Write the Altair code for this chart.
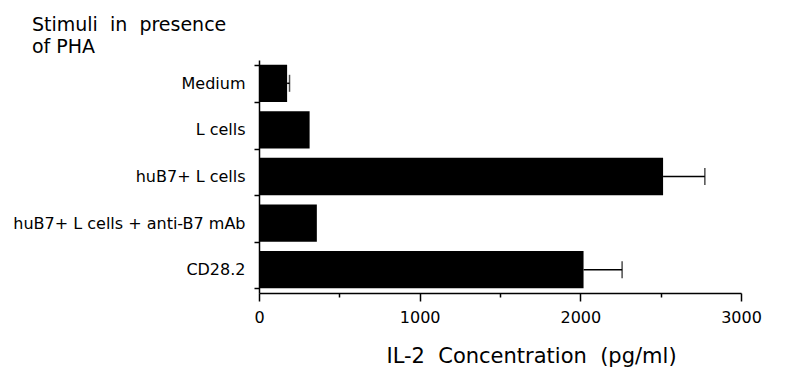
import altair as alt
import pandas as pd

categories = ["Medium", "L cells", "huB7+ L cells", "huB7+ L cells + anti-B7 mAb", "CD28.2"]
values = [175, 315, 2515, 360, 2020]
errors = [15, 0, 260, 0, 240]

df = pd.DataFrame({"cat": categories, "val": values, "err": errors})
df["hi"] = df["val"] + df["err"]

FONT = "DejaVu Sans"
SP = "\u00a0\u00a0"

y_enc = alt.Y("cat:N", sort=categories,
              scale=alt.Scale(paddingInner=0.2, paddingOuter=0.1),
              axis=alt.Axis(title=None, tickBand="extent", tickSize=5, labelPadding=9,
                            labelFont=FONT, labelFontSize=16, labelColor="black",
                            domainColor="black", tickColor="black", domainWidth=1.5,
                            tickWidth=1.5, labelLimit=400))

x_scale = alt.Scale(domain=[0, 3000], nice=False)

bars = alt.Chart(df).mark_bar(color="black").encode(
    x=alt.X("val:Q", scale=x_scale,
            axis=alt.Axis(title=f"IL-2{SP}Concentration{SP}(pg/ml)",
                          values=[0, 500, 1000, 1500, 2000, 2500, 3000],
                          format="d",
                          labelExpr="datum.value % 1000 === 0 ? datum.label : ''",
                          tickSize={"condition": {"test": "datum.value % 1000 === 0", "value": 8}, "value": 4},
                          labelPadding=8, labelFont=FONT, labelFontSize=16, labelColor="black",
                          titleFont=FONT, titleFontSize=21, titleFontWeight="normal",
                          titleColor="black", titlePadding=20, titleX=272,
                          domainColor="black", tickColor="black", domainWidth=1.5,
                          tickWidth=1.5, grid=False, labelFlush=False)),
    y=y_enc,
)

err_df_filter = alt.datum.err > 0

rules = alt.Chart(df).transform_filter(err_df_filter).mark_rule(color="black", strokeWidth=1.5).encode(
    x=alt.X("val:Q", scale=x_scale),
    x2="hi:Q",
    y=alt.Y("cat:N", sort=categories),
)

caps = alt.Chart(df).transform_filter(err_df_filter).mark_tick(
    color="black", orient="vertical", thickness=1.5, size=17).encode(
    x=alt.X("hi:Q", scale=x_scale),
    y=alt.Y("cat:N", sort=categories),
)

chart = alt.layer(bars, rules, caps).properties(
    width=482,
    height=233,
    background="white",
    autosize=alt.AutoSizeParams(type="none"),
    padding={"left": 251, "top": 52, "right": 40, "bottom": 74},
    title=alt.TitleParams([f"Stimuli{SP}in{SP}presence", "of PHA"], anchor="start", frame="group",
                          dx=-227, font=FONT, fontSize=19, fontWeight="normal",
                          color="black", lineHeight=22, offset=-5),
).configure_view(stroke=None)

chart.save("out.html", embed_options={"renderer": "svg", "actions": False})
